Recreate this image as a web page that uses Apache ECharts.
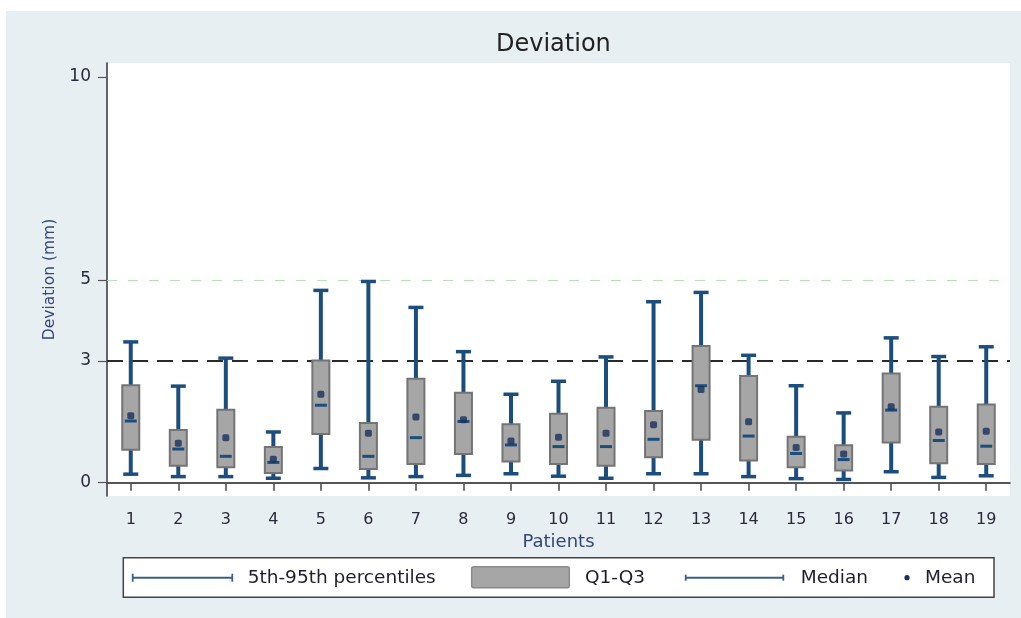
<!DOCTYPE html>
<html>
<head>
<meta charset="utf-8">
<script src="https://cdn.jsdelivr.net/npm/echarts@6/dist/echarts.min.js"></script>
<style>
  html, body { margin: 0; padding: 0; background: #ffffff; width: 1021px; height: 618px; overflow: hidden; }
  #chart { position: absolute; left: 6px; top: 11px; width: 1015px; height: 607px; background: #e8eff2; }
</style>
</head>
<body>
<div id="chart"></div>
<script>
// ---- data ----
const categories = ['1','2','3','4','5','6','7','8','9','10','11','12','13','14','15','16','17','18','19'];
const p5     = [0.21,0.15,0.15,0.11,0.35,0.12,0.15,0.18,0.22,0.16,0.11,0.22,0.22,0.15,0.10,0.08,0.27,0.13,0.17];
const q1     = [0.81,0.42,0.38,0.24,1.20,0.34,0.46,0.71,0.52,0.46,0.42,0.63,1.06,0.55,0.38,0.30,0.99,0.48,0.46];
const median = [1.52,0.83,0.65,0.50,1.91,0.65,1.11,1.51,0.93,0.89,0.89,1.07,2.39,1.15,0.72,0.57,1.79,1.04,0.90];
const q3     = [2.40,1.30,1.80,0.88,3.01,1.47,2.56,2.22,1.44,1.70,1.85,1.77,3.37,2.63,1.13,0.92,2.69,1.87,1.93];
const p95    = [3.47,2.38,3.07,1.25,4.74,4.96,4.32,3.23,2.18,2.50,3.10,4.46,4.69,3.14,2.39,1.72,3.57,3.11,3.35];
const mean   = [1.65,0.97,1.11,0.58,2.18,1.22,1.62,1.55,1.03,1.12,1.22,1.43,2.30,1.50,0.87,0.71,1.87,1.25,1.27];
const yTicks = [0, 3, 5, 10];
const refLines = [0, 3, 5];
const legendNames = ['5th-95th percentiles', 'Q1-Q3', 'Median', 'Mean'];

// ---- styles ----
const FONT = 'DejaVu Sans';
const NAVY = '#1c4e7d';
const MEANC = '#1a2f5e';
const BOXF = '#a6a6a6';
const BOXS = '#747474';

const chart = echarts.init(document.getElementById('chart'));

const whiskerData = categories.map((c, i) => [i, p5[i], p95[i]]);
const boxData = categories.map((c, i) => [i, q1[i], q3[i]]);
const medData = categories.map((c, i) => [i, median[i]]);
const meanData = categories.map((c, i) => [i, mean[i]]);

// legend graphics (positions relative to chart container)
const LX = 117.3, LY = 546.7, LW = 870.7, LH = 39.6, LCY = 566.7;
function capLine(x1, x2, y, color, w, capH) {
  return [
    { type: 'line', shape: { x1: x1, y1: y, x2: x2, y2: y }, style: { stroke: color, lineWidth: w } },
    { type: 'line', shape: { x1: x1, y1: y - capH / 2, x2: x1, y2: y + capH / 2 }, style: { stroke: color, lineWidth: 1.8 } },
    { type: 'line', shape: { x1: x2, y1: y - capH / 2, x2: x2, y2: y + capH / 2 }, style: { stroke: color, lineWidth: 1.8 } }
  ];
}
function legText(x, t) {
  return { type: 'text', x: x, y: LCY, style: { text: t, fontFamily: FONT, fontSize: 18.5, fill: '#1e1e2e', verticalAlign: 'middle', align: 'left' } };
}

const option = {
  animation: false,
  title: {
    text: 'Deviation',
    left: 490, top: 22, padding: 0,
    textStyle: { fontFamily: FONT, fontSize: 24, fontWeight: 'normal', color: '#222' }
  },
  grid: { left: 101, right: 11, top: 52, bottom: 122, show: true, backgroundColor: '#ffffff', borderWidth: 0 },
  xAxis: {
    type: 'category',
    data: categories,
    boundaryGap: true,
    name: 'Patients', nameLocation: 'middle', nameGap: 32,
    nameTextStyle: { fontFamily: FONT, fontSize: 18, color: '#33477a' },
    axisLine: { show: true, lineStyle: { color: '#333', width: 1.5 } },
    axisTick: { show: true, alignWithLabel: true, length: 8, lineStyle: { color: '#444', width: 1.5 } },
    axisLabel: { fontFamily: FONT, fontSize: 16, color: '#2a2a3a', margin: 16, interval: 0 },
    splitLine: { show: false }
  },
  yAxis: {
    type: 'value',
    min: -0.328, max: 10.345,
    name: 'Deviation (mm)', nameLocation: 'middle', nameGap: 45,
    nameTextStyle: { fontFamily: FONT, fontSize: 15.5, color: '#33477a' },
    axisLine: { show: true, lineStyle: { color: '#333', width: 1.5 } },
    axisTick: { show: true, length: 9, customValues: yTicks, lineStyle: { color: '#555', width: 1.2 } },
    axisLabel: { fontFamily: FONT, fontSize: 17, color: '#2a2a3a', margin: 16, customValues: yTicks },
    splitLine: { show: false }
  },
  series: [
    {
      name: 'refs', type: 'line', data: [], z: 1,
      markLine: {
        silent: true, symbol: 'none', z: 1, label: { show: false },
        data: [
          { yAxis: refLines[0], lineStyle: { color: '#555', width: 2.2, type: 'solid' } },
          { yAxis: refLines[1], lineStyle: { color: '#2a2a2a', width: 2, type: [16, 9] } },
          { yAxis: refLines[2], lineStyle: { color: '#b6e2b6', width: 1.2, type: [10, 11] } }
        ]
      }
    },
    {
      name: legendNames[0], type: 'custom', z: 2,
      data: whiskerData,
      encode: { x: 0, y: [1, 2] },
      renderItem: function (params, api) {
        const i = api.value(0);
        const lo = api.coord([i, api.value(1)]);
        const hi = api.coord([i, api.value(2)]);
        const cw = 15;
        return {
          type: 'group',
          children: [
            { type: 'line', shape: { x1: lo[0], y1: lo[1], x2: hi[0], y2: hi[1] }, style: { stroke: NAVY, lineWidth: 4 } },
            { type: 'line', shape: { x1: lo[0] - cw / 2, y1: lo[1], x2: lo[0] + cw / 2, y2: lo[1] }, style: { stroke: NAVY, lineWidth: 3.5 } },
            { type: 'line', shape: { x1: hi[0] - cw / 2, y1: hi[1], x2: hi[0] + cw / 2, y2: hi[1] }, style: { stroke: NAVY, lineWidth: 3.5 } }
          ]
        };
      }
    },
    {
      name: legendNames[1], type: 'custom', z: 3,
      data: boxData,
      encode: { x: 0, y: [1, 2] },
      renderItem: function (params, api) {
        const i = api.value(0);
        const lo = api.coord([i, api.value(1)]);
        const hi = api.coord([i, api.value(2)]);
        const w = 17;
        return {
          type: 'rect',
          shape: { x: lo[0] - w / 2, y: hi[1], width: w, height: lo[1] - hi[1] },
          style: { fill: BOXF, stroke: BOXS, lineWidth: 2 }
        };
      }
    },
    {
      name: legendNames[2], type: 'custom', z: 4,
      data: medData,
      encode: { x: 0, y: 1 },
      renderItem: function (params, api) {
        const i = api.value(0);
        const p = api.coord([i, api.value(1)]);
        const w = 12;
        return {
          type: 'line',
          shape: { x1: p[0] - w / 2, y1: p[1], x2: p[0] + w / 2, y2: p[1] },
          style: { stroke: NAVY, lineWidth: 3 }
        };
      }
    },
    {
      name: legendNames[3], type: 'scatter', z: 5,
      data: meanData,
      symbol: 'roundRect', symbolSize: 7,
      itemStyle: { color: MEANC }
    }
  ],
  graphic: [
    { type: 'rect', shape: { x: LX, y: LY, width: LW, height: LH }, style: { fill: '#ffffff', stroke: '#444', lineWidth: 1.5 }, z: 0 },
    ...capLine(126.7, 226.3, LCY, '#3d5f86', 2, 8),
    legText(241.7, legendNames[0]),
    { type: 'rect', shape: { x: 465.7, y: 555.7, width: 97.6, height: 21, r: 2 }, style: { fill: BOXF, stroke: '#8a8a8a', lineWidth: 1.5 } },
    legText(579, legendNames[1]),
    ...capLine(679.7, 777.3, LCY, '#3d5f86', 2, 6),
    legText(794.7, legendNames[2]),
    { type: 'circle', shape: { cx: 901, cy: LCY, r: 2.6 }, style: { fill: MEANC } },
    legText(919, legendNames[3])
  ]
};
chart.setOption(option);
</script>
</body>
</html>
